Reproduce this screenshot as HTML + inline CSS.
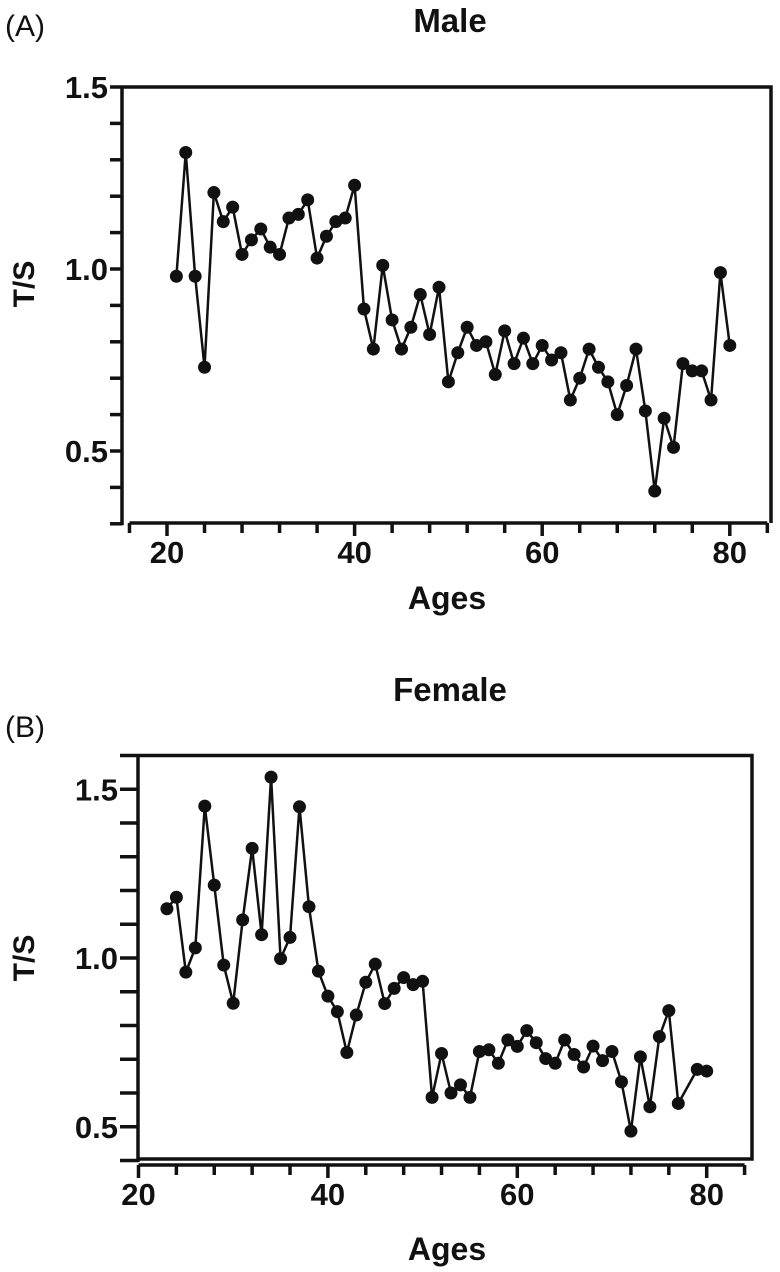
<!DOCTYPE html>
<html><head><meta charset="utf-8"><style>
body{margin:0;background:#fff;width:780px;height:1272px;overflow:hidden}
svg{display:block}
text{font-family:"Liberation Sans",Arial,sans-serif;fill:#111}
</style></head><body>
<svg id="c" width="780" height="1272"></svg>
<script>
const maleAges=[21,22,23,24,25,26,27,28,29,30,31,32,33,34,35,36,37,38,39,40,41,42,43,44,45,46,47,48,49,50,51,52,53,54,55,56,57,58,59,60,61,62,63,64,65,66,67,68,69,70,71,72,73,74,75,76,77,78,79,80];
const maleTS=[0.98,1.32,0.98,0.73,1.21,1.13,1.17,1.04,1.08,1.11,1.06,1.04,1.14,1.15,1.19,1.03,1.09,1.13,1.14,1.23,0.89,0.78,1.01,0.86,0.78,0.84,0.93,0.82,0.95,0.69,0.77,0.84,0.79,0.80,0.71,0.83,0.74,0.81,0.74,0.79,0.75,0.77,0.64,0.70,0.78,0.73,0.69,0.60,0.68,0.78,0.61,0.39,0.59,0.51,0.74,0.72,0.72,0.64,0.99,0.79];
const femaleAges=[23,24,25,26,27,28,29,30,31,32,33,34,35,36,37,38,39,40,41,42,43,44,45,46,47,48,49,50,51,52,53,54,55,56,57,58,59,60,61,62,63,64,65,66,67,68,69,70,71,72,73,74,75,76,77,79,80];
const femaleTS=[1.146,1.18,0.958,1.03,1.45,1.216,0.979,0.866,1.113,1.325,1.069,1.536,0.998,1.061,1.448,1.152,0.961,0.887,0.841,0.72,0.831,0.928,0.982,0.865,0.91,0.942,0.921,0.931,0.587,0.717,0.60,0.624,0.587,0.723,0.728,0.688,0.757,0.738,0.785,0.749,0.702,0.688,0.757,0.714,0.677,0.739,0.696,0.723,0.633,0.487,0.707,0.559,0.767,0.844,0.569,0.67,0.665];
const xTickLabels=[20,40,60,80];
const yTickLabels=[0.5,1.0,1.5];
const NS='http://www.w3.org/2000/svg';
const svg=document.getElementById('c');
function mk(tag,attrs,parent){const e=document.createElementNS(NS,tag);for(const k in attrs)e.setAttribute(k,attrs[k]);(parent||svg).appendChild(e);return e;}
function txt(s,x,y,size,weight,anchor,parent){const t=mk('text',{x:x,y:y,'font-size':size,'font-weight':weight,'text-anchor':anchor},parent);t.textContent=s;return t;}

function panel(cfg,ages,vals,tag){
  const g=mk('g',{});
  
  
  const X=a=>cfg.x0+(a-20)*cfg.px;
  const Y=v=>cfg.y1+(1.0-v)*cfg.py;
  const fr=mk('path',{d:`M${cfg.left} ${Y(cfg.ymax)} H${cfg.right} V${cfg.frameBottom}`+(cfg.boxBottom?` H${cfg.left}`:''),fill:'none',stroke:'#111','stroke-width':3.5},g);
  
  
  const ya=mk('line',{x1:cfg.left,x2:cfg.left,y1:Y(cfg.ymax)-1.5,y2:Y(cfg.ymin)+1.5,stroke:'#111','stroke-width':3.5},g);
  
  
  for(let v=cfg.ymin;v<=cfg.ymax+1e-6;v+=0.1){
    mk('line',{x1:cfg.left-cfg.tl,x2:cfg.left,y1:Y(v),y2:Y(v),stroke:'#111','stroke-width':3.5},g);
  }
  yTickLabels.forEach(v=>{const t=txt(v.toFixed(1),cfg.left-cfg.tl-2,Y(v)+11,31,'bold','end',g);
    
    });
  const xa=mk('line',{x1:X(cfg.xa0),x2:X(cfg.xa1),y1:cfg.xAxisY,y2:cfg.xAxisY,stroke:'#111','stroke-width':3.5},g);
  
  
  for(let a=cfg.xt0;a<=cfg.xa1;a+=4){
    mk('line',{x1:X(a),x2:X(a),y1:cfg.xAxisY,y2:cfg.xAxisY+(a%20===0?13:10),stroke:'#111','stroke-width':3.5},g);
  }
  xTickLabels.forEach(a=>{const t=txt(String(a),X(a),cfg.xAxisY+40,31,'bold','middle',g);
    
    });
  const line=mk('polyline',{points:ages.map((a,i)=>X(a)+','+Y(vals[i])).join(' '),fill:'none',stroke:'#111','stroke-width':2.5,'stroke-linejoin':'round'},g);
  
  
  ages.forEach((a,i)=>{const c=mk('circle',{cx:X(a),cy:Y(vals[i]),r:6.5,fill:'#111'},g);
    
    });
  const tt=txt(cfg.title,450,cfg.titleY,33,'bold','middle',g);
  
  
  const pl=txt(cfg.letter,5,cfg.letterY,30,'normal','start',g);
  
  
  const xl=txt('Ages',447,cfg.xLabelY,32,'bold','middle',g);
  
  
  const yl=txt('T/S',0,0,30,'bold','middle',g);
  yl.setAttribute('transform',`translate(${cfg.yLabelX},${Y(1.0)+cfg.yLabelOff}) rotate(-90)`);
  
  
}
panel({x0:167,px:9.38,y1:269,py:364,left:122,right:771,ymin:0.3,ymax:1.5,frameBottom:523,boxBottom:false,tl:12,
  xAxisY:523,xa0:16,xa1:84,xt0:16,title:'Male',titleY:32,letter:'(A)',letterY:36,xLabelY:609,yLabelX:34,yLabelOff:15},maleAges,maleTS,'male');
panel({x0:138.5,px:9.47,y1:958,py:337.5,left:138,right:752,ymin:0.4,ymax:1.6,frameBottom:1159,boxBottom:true,tl:18,
  xAxisY:1165,xa0:20,xa1:84,xt0:20,title:'Female',titleY:701,letter:'(B)',letterY:737,xLabelY:1260,yLabelX:34,yLabelOff:0},femaleAges,femaleTS,'female');
</script>
</body></html>
